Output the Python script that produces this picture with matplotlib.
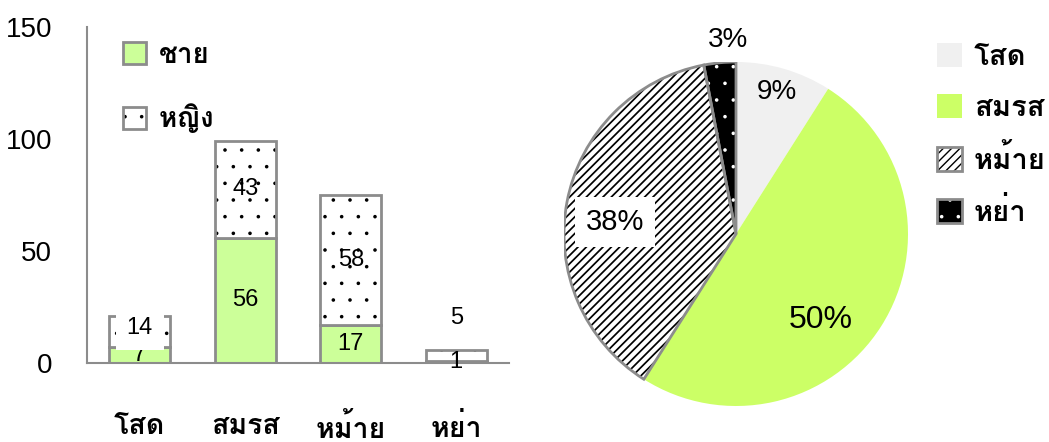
import math
import matplotlib
matplotlib.use("Agg")
import matplotlib.pyplot as plt
import matplotlib.hatch as mhatch
from matplotlib.patches import Patch, Wedge, Rectangle

plt.rcParams['font.family'] = ['Liberation Sans', 'Loma', 'DejaVu Sans']
plt.rcParams['hatch.linewidth'] = 1.0
# smaller dots for the '.' hatch
mhatch.SmallFilledCircles.size = 0.065

# ---- data ----
categories = ['โสด', 'สมรส', 'หม้าย', 'หย่า']
male = [7, 56, 17, 1]
female = [14, 43, 58, 5]
series_names = ['ชาย', 'หญิง']
yticks = [0, 50, 100, 150]

pie_labels = ['โสด', 'สมรส', 'หม้าย', 'หย่า']
pie_values = [9, 50, 38, 3]

GRAY = '#8c8c8c'
BAR_GREEN = '#ccff99'
PIE_GREEN = '#ccff66'
LIGHT = '#f0f0f0'

W, H = 1049, 442
fig = plt.figure(figsize=(W / 100, H / 100), dpi=100)

# ---- bar chart ----
ax = fig.add_axes([87 / W, 1 - 363 / H, (509 - 87) / W, (363 - 27) / H])
x = list(range(len(categories)))
bw = 0.58
ax.bar(x, male, bw, color=BAR_GREEN, edgecolor=GRAY, linewidth=2, zorder=2)
b2 = ax.bar(x, female, bw, bottom=male, color='white', edgecolor='black', linewidth=0,
            hatch='.', zorder=2)
for r in b2:
    ax.add_patch(Rectangle(r.get_xy(), r.get_width(), r.get_height(), fill=False,
                           edgecolor=GRAY, linewidth=2, zorder=3))
ax.set_xlim(-0.5, 3.5)
ax.set_ylim(0, 150)
ax.set_yticks(yticks)
ax.set_xticks(x)
ax.set_xticklabels(categories, fontsize=20.5, fontweight='bold')
ax.tick_params(axis='both', length=0)
ax.tick_params(axis='y', pad=25, labelsize=20)
ax.tick_params(axis='x', pad=36.5)
for s in ['top', 'right']:
    ax.spines[s].set_visible(False)
for s in ['left', 'bottom']:
    ax.spines[s].set_color(GRAY)
    ax.spines[s].set_linewidth(1.5)
ax.spines['bottom'].set_zorder(4)

for i in x:
    m, f = male[i], female[i]
    ax.text(i, m / 2, str(m), ha='center', va='center', fontsize=17, zorder=5)
    fy = m + f / 2
    bbox = None
    if i == 0:
        fy += 1.5
        bbox = dict(facecolor='white', edgecolor='none', boxstyle='square,pad=0.45')
    if i == 3:
        fy = 20
    ax.text(i, fy, str(f), ha='center', va='center', fontsize=17, zorder=6, bbox=bbox)

h1 = Patch(facecolor=BAR_GREEN, edgecolor=GRAY, linewidth=2)
h2 = Patch(facecolor='white', edgecolor='black', linewidth=0, hatch='.')
h2o = Patch(facecolor='none', edgecolor=GRAY, linewidth=2)
ax.legend([h1, (h2, h2o)], series_names, loc='upper left', bbox_to_anchor=(0.085, 0.955),
          borderaxespad=0, borderpad=0, frameon=False,
          prop={'size': 20, 'weight': 'bold'}, handlelength=0.85,
          handleheight=0.85, labelspacing=1.25, handletextpad=0.45)

# ---- pie chart ----
cx, cy, R = 736, 234, 172
pax = fig.add_axes([(cx - R) / W, 1 - (cy + R) / H, 2 * R / W, 2 * R / H])
pie_colors = [LIGHT, PIE_GREEN, 'white', 'black']
wedges, _ = pax.pie(pie_values, colors=pie_colors, startangle=90, counterclock=False,
                    wedgeprops=dict(linewidth=0))
pax.set_xlim(-1, 1)
pax.set_ylim(-1, 1)
pax.set_aspect('equal')
wedges[2].set_hatch('////')
wedges[2].set_edgecolor('black')
if hasattr(wedges[2], 'set_hatch_linewidth'):
    wedges[2].set_hatch_linewidth(1.25)
wedges[3].set_hatch('.')
wedges[3].set_edgecolor('white')
for wdg in wedges[2:]:
    pax.add_patch(Wedge(wdg.center, wdg.r, wdg.theta1, wdg.theta2, fill=False,
                        edgecolor=GRAY, linewidth=2, zorder=3))

label_pos = [(0.86, 0), (0.70, -13), (0.707, 5), (1.13, -3)]
label_size = [20, 23, 21, 20]
for i, wdg in enumerate(wedges):
    r, off = label_pos[i]
    ang = math.radians((wdg.theta1 + wdg.theta2) / 2 + off)
    bbox = dict(facecolor='white', edgecolor='none', boxstyle='square,pad=0.38') if i == 2 else None
    pax.text(r * math.cos(ang), r * math.sin(ang), f'{pie_values[i]}%', ha='center',
             va='center', fontsize=label_size[i], bbox=bbox, zorder=5)

ph = [Patch(facecolor=LIGHT, edgecolor='none'),
      Patch(facecolor=PIE_GREEN, edgecolor='none'),
      (Patch(facecolor='white', edgecolor='black', linewidth=0, hatch='////'),
       Patch(facecolor='none', edgecolor=GRAY, linewidth=2)),
      (Patch(facecolor='black', edgecolor='white', linewidth=0, hatch='.'),
       Patch(facecolor='none', edgecolor=GRAY, linewidth=2))]
fig.legend(ph, pie_labels, loc='upper left', bbox_to_anchor=(937 / W, 1 - 43 / H),
           borderaxespad=0, borderpad=0, frameon=False,
           prop={'size': 21, 'weight': 'bold'}, handlelength=0.86,
           handleheight=0.86, labelspacing=0.79, handletextpad=0.4)

fig.savefig('out.png', dpi=100)
